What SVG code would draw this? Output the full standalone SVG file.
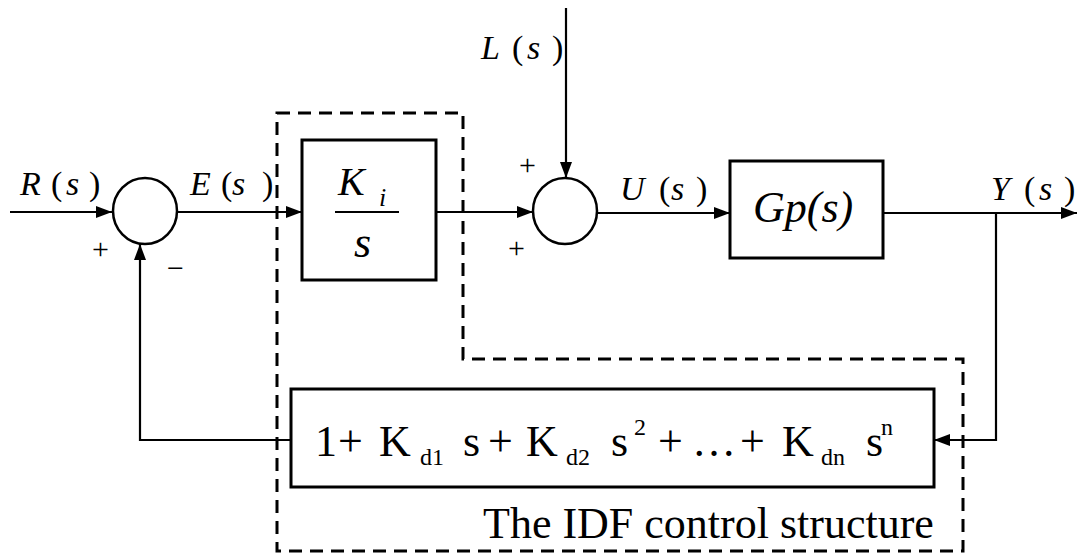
<svg xmlns="http://www.w3.org/2000/svg" width="1077" height="556" viewBox="0 0 1077 556">
<style>
.ln{fill:none;stroke:#000;stroke-width:2.2}
.box{fill:#fff;stroke:#000;stroke-width:3}
.sum{fill:#fff;stroke:#000;stroke-width:2.5}
.dash{fill:none;stroke:#000;stroke-width:3;stroke-dasharray:13 8}
.t{font-family:'Liberation Serif',serif;fill:#000}
.it{font-style:italic}
.lbl{font-size:34px}
.big{font-size:44px}
.sub{font-size:24px}
.sg{font-size:30px}
</style>
<defs>
<marker id="ah" markerUnits="userSpaceOnUse" markerWidth="16" markerHeight="12" refX="16" refY="6" orient="auto">
<path d="M0,0 L16,6 L0,12 z" fill="#000"/>
</marker>
</defs>
<g id="idf-boundary">
<path class="dash" d="M277,113 H463 V359 H963 V551 H277 Z"/>
</g>
<g id="connectors">
<path class="ln" d="M10,212 H112" marker-end="url(#ah)"/>
<path class="ln" d="M177,212 H302" marker-end="url(#ah)"/>
<path class="ln" d="M436,212 H533" marker-end="url(#ah)"/>
<path class="ln" d="M566,8 V178" marker-end="url(#ah)"/>
<path class="ln" d="M597,213 H730" marker-end="url(#ah)"/>
<path class="ln" d="M883,213 H1077" marker-end="url(#ah)"/>
<path class="ln" d="M996,213 V440 H934" marker-end="url(#ah)"/>
<path class="ln" d="M291,440 H140 V244" marker-end="url(#ah)"/>
</g>
<g id="sum1">
<ellipse class="sum" cx="145" cy="211" rx="32" ry="33"/>
<text class="t sg" x="92" y="259">+</text>
<text class="t sg" x="167" y="278">−</text>
</g>
<g id="sum2">
<ellipse class="sum" cx="565" cy="211" rx="32" ry="33"/>
<text class="t sg" x="519" y="175">+</text>
<text class="t sg" x="508" y="258">+</text>
</g>
<g id="ki-block">
<rect class="box" x="302" y="140" width="134" height="140"/>
<text class="t it" x="338" y="195" font-size="40">K</text>
<text class="t it" x="379" y="206" font-size="26">i</text>
<line x1="335" y1="212" x2="399" y2="212" stroke="#000" stroke-width="2"/>
<text class="t it" x="354" y="257" font-size="44">s</text>
</g>
<g id="gp-block">
<rect class="box" x="730" y="161" width="153" height="97"/>
<text class="t it big" x="753" y="222">Gp(s)</text>
</g>
<g id="feedback-block">
<rect class="box" x="291" y="389" width="643" height="98"/>
<text class="t big" y="456"><tspan x="315">1</tspan><tspan x="338">+</tspan><tspan x="379">K</tspan><tspan x="463">s</tspan><tspan x="488">+</tspan><tspan x="526">K</tspan><tspan x="611">s</tspan><tspan x="658">+</tspan><tspan x="692">…</tspan><tspan x="740">+</tspan><tspan x="782">K</tspan><tspan x="866">s</tspan></text>
<text class="t sub" y="465"><tspan x="420">d1</tspan><tspan x="566">d2</tspan><tspan x="821">dn</tspan></text>
<text class="t sub" y="435"><tspan x="634">2</tspan><tspan x="881">n</tspan></text>
</g>
<g id="labels">
<text class="t lbl" y="195"><tspan class="it" x="20">R</tspan><tspan x="51">(</tspan><tspan class="it" x="66">s</tspan><tspan x="89">)</tspan></text>
<text class="t lbl" y="195"><tspan class="it" x="190">E</tspan><tspan x="221">(</tspan><tspan class="it" x="232">s</tspan><tspan x="262">)</tspan></text>
<text class="t lbl" y="59"><tspan class="it" x="481">L</tspan><tspan x="512">(</tspan><tspan class="it" x="527">s</tspan><tspan x="552">)</tspan></text>
<text class="t lbl" y="200"><tspan class="it" x="620">U</tspan><tspan x="659">(</tspan><tspan class="it" x="671">s</tspan><tspan x="696">)</tspan></text>
<text class="t lbl" y="200"><tspan class="it" x="991">Y</tspan><tspan x="1024">(</tspan><tspan class="it" x="1039">s</tspan><tspan x="1064">)</tspan></text>
<text class="t big" x="483" y="538">The IDF control structure</text>
</g>
</svg>
